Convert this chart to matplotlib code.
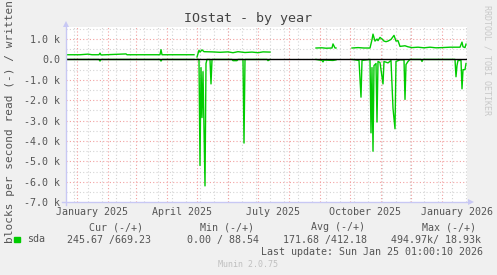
#!/usr/bin/env python3
"""Munin style IOstat yearly graph."""

import matplotlib

matplotlib.use("Agg")

import matplotlib.pyplot as plt
from matplotlib.lines import Line2D
from matplotlib.patches import Rectangle
import numpy as np
import pandas as pd


W, H = 497, 275

# written (+), blocks/s in thousands; None marks a gap in the data
written_dates = [
    "2024-12-21", "2025-01-04", "2025-01-12", "2025-01-16", "2025-01-23", "2025-01-24",
    "2025-01-25", "2025-02-19", "2025-02-20", "2025-03-25", "2025-03-26", "2025-03-27",
    "2025-04-28", "2025-04-29", "2025-05-01", "2025-05-03", "2025-05-04", "2025-05-06",
    "2025-05-08", "2025-05-16", "2025-05-24", "2025-06-01", "2025-06-06", "2025-06-11",
    "2025-06-18", "2025-06-25", "2025-07-01", "2025-07-06", "2025-07-13", "2025-07-14",
    "2025-08-28", "2025-09-03", "2025-09-07", "2025-09-13", "2025-09-14", "2025-09-16",
    "2025-09-17", "2025-09-18", "2025-10-03", "2025-10-09", "2025-10-15", "2025-10-21",
    "2025-10-23", "2025-10-24", "2025-10-26", "2025-10-28", "2025-10-29", "2025-10-31",
    "2025-11-02", "2025-11-04", "2025-11-06", "2025-11-08", "2025-11-11", "2025-11-14",
    "2025-11-16", "2025-11-18", "2025-11-20", "2025-11-25", "2025-11-28", "2025-12-02",
    "2025-12-08", "2025-12-14", "2025-12-20", "2025-12-26", "2026-01-01", "2026-01-09",
    "2026-01-17", "2026-01-19", "2026-01-21", "2026-01-22", "2026-01-24", "2026-01-25",
]
written_k = [
    0.23, 0.23, 0.26, 0.23, 0.23, 0.31,
    0.22, 0.27, 0.23, 0.23, 0.48, 0.23,
    0.23, None, 0.12, 0.45, 0.36, 0.47,
    0.38, 0.37, 0.35, 0.37, 0.33, 0.38,
    0.34, 0.36, 0.33, 0.37, 0.36, None,
    0.56, 0.57, 0.55, 0.56, 0.76, 0.56,
    0.56, None, 0.56, 0.58, 0.56, 0.56,
    0.97, 1.24, 0.90, 1.00, 0.92, 1.08,
    1.00, 0.90, 0.87, 0.90, 0.98, 1.18,
    0.90, 0.92, 0.64, 0.67, 0.62, 0.58,
    0.60, 0.57, 0.60, 0.57, 0.58, 0.60,
    0.60, 0.60, 0.85, 0.62, 0.58, 0.75,
]

# read (-), drawn below zero
read_dates = [
    "2024-12-21", "2025-01-23", "2025-01-24", "2025-01-25", "2025-03-25", "2025-03-26",
    "2025-03-27", "2025-04-28", "2025-04-29", "2025-05-01", "2025-05-03", "2025-05-04",
    "2025-05-05", "2025-05-06", "2025-05-07", "2025-05-09", "2025-05-10", "2025-05-11",
    "2025-05-14", "2025-05-15", "2025-05-16", "2025-06-05", "2025-06-06", "2025-06-10",
    "2025-06-11", "2025-06-16", "2025-06-17", "2025-06-18", "2025-07-10", "2025-07-11",
    "2025-07-13", "2025-07-14", "2025-08-28", "2025-09-03", "2025-09-04", "2025-09-05",
    "2025-09-14", "2025-09-17", "2025-09-18", "2025-10-03", "2025-10-10", "2025-10-12",
    "2025-10-13", "2025-10-21", "2025-10-22", "2025-10-23", "2025-10-24", "2025-10-25",
    "2025-10-27", "2025-10-28", "2025-10-29", "2025-10-31", "2025-11-03", "2025-11-04",
    "2025-11-08", "2025-11-11", "2025-11-13", "2025-11-15", "2025-11-16", "2025-11-20",
    "2025-11-24", "2025-11-25", "2025-11-26", "2025-11-28", "2025-11-30", "2025-12-11",
    "2025-12-12", "2025-12-13", "2026-01-14", "2026-01-15", "2026-01-16", "2026-01-17",
    "2026-01-20", "2026-01-21", "2026-01-22", "2026-01-24", "2026-01-25",
]
read_k = [
    0.0, 0.0, -0.08, 0.0, 0.0, -0.08,
    0.0, 0.0, None, 0.0, 0.0, -5.2,
    -0.4, -2.85, -0.6, -6.2, -0.2, 0.0,
    0.0, -1.2, 0.0, 0.0, -0.06, -0.06,
    0.0, 0.0, -4.1, 0.0, 0.0, -0.06,
    0.0, None, 0.0, -0.05, -0.12, -0.03,
    -0.05, -0.02, None, 0.0, -0.05, -1.85,
    -0.05, 0.0, -3.6, -0.4, -4.5, -0.3,
    -0.2, -3.07, -0.1, -0.15, -1.2, -0.1,
    -0.17, -0.05, -2.4, -3.4, -0.1, -0.02,
    -0.02, -1.96, -0.25, -0.1, 0.0, 0.0,
    -0.1, 0.0, 0.0, -0.85, -0.3, -0.05,
    -0.05, -1.44, -0.5, -0.5, -0.2,
]

y_ticks = [1, 0, -1, -2, -3, -4, -5, -6, -7]
y_tick_labels = ["1.0 k", "0.0", "-1.0 k", "-2.0 k", "-3.0 k", "-4.0 k", "-5.0 k", "-6.0 k", "-7.0 k"]
x_label_dates = ["2025-01-16", "2025-04-16", "2025-07-16", "2025-10-16", "2026-01-16"]
x_labels = ["January 2025", "April 2025", "July 2025", "October 2025", "January 2026"]

legend_headers = ["Cur (-/+)", "Min (-/+)", "Avg (-/+)", "Max (-/+)"]
legend_values = ["245.67 /669.23", "0.00 / 88.54", "171.68 /412.18", "494.97k/ 18.93k"]

GREEN = "#00cc00"
TEXT = "#555555"
AXIS = "#c8c8f4"
MGRID = "#f2a0a0"
GRID = "#d4d4d4"
MONO = "DejaVu Sans Mono"


def px(x, y):
    return x / W, 1 - y / H


def main():
    fig = plt.figure(figsize=(W / 100, H / 100), dpi=100, facecolor="#f0f0f0")
    left, right, top, bottom = 66, 467, 26.8, 202.2
    ax = fig.add_axes([left / W, 1 - bottom / H, (right - left) / W, (bottom - top) / H])
    ax.set_facecolor("white")

    x0 = pd.Timestamp("2024-12-21")
    x1 = pd.Timestamp("2026-01-26")
    ax.set_xlim(x0, x1)
    ax.set_ylim(-7, 1.6)

    # grid: minor every half k and every two weeks, major at k and month starts
    for v in np.arange(-6.5, 1.6, 0.5):
        is_major = float(v).is_integer()
        ax.axhline(v, color=MGRID if is_major else GRID, lw=0.8, ls=(0, (1, 2)), zorder=1)
    for d in pd.date_range("2024-12-29", x1, freq="14D"):
        ax.axvline(d, color=GRID, lw=0.8, ls=(0, (1, 2)), zorder=1)
    for d in pd.date_range("2025-01-01", x1, freq="MS"):
        ax.axvline(d, color=MGRID, lw=0.8, ls=(0, (1, 2)), zorder=1)

    wx = pd.to_datetime(written_dates)
    wy = np.array([np.nan if v is None else v for v in written_k])
    rx = pd.to_datetime(read_dates)
    ry = np.array([np.nan if v is None else v for v in read_k])
    ax.plot(rx, ry, color=GREEN, lw=1.0, zorder=3)
    ax.plot(wx, wy, color=GREEN, lw=1.0, zorder=3)
    ax.axhline(0, color="black", lw=1.0, zorder=4)

    ax.set_yticks(y_ticks)
    ax.set_yticklabels(y_tick_labels)
    ax.set_xticks(pd.to_datetime(x_label_dates))
    ax.set_xticklabels(x_labels)
    ax.tick_params(length=0, labelsize=7.2, labelcolor=TEXT)
    ax.tick_params(axis="y", pad=4.3)
    ax.tick_params(axis="x", pad=3.2)
    for lab in ax.get_xticklabels() + ax.get_yticklabels():
        lab.set_family(MONO)
    for s in ax.spines.values():
        s.set_visible(False)

    # axes with arrow heads
    fig.add_artist(Line2D([px(66, 0)[0]] * 2, [px(0, 205)[1], px(0, 25)[1]], color=AXIS, lw=1.0))
    fig.add_artist(Line2D([px(62, 0)[0], px(470, 0)[0]], [px(0, 202.2)[1]] * 2, color=AXIS, lw=1.0))
    fig.add_artist(Line2D([px(66, 0)[0]], [px(0, 23.5)[1]], marker="^", ms=5, color=AXIS, mew=0))
    fig.add_artist(Line2D([px(471, 0)[0]], [px(0, 202.2)[1]], marker=">", ms=5, color=AXIS, mew=0))

    fig.text(*px(248.5, 18.3), "IOstat - by year", family=MONO, fontsize=9.6,
             color="#444444", ha="center", va="center")
    fig.text(*px(10, 108), "blocks per second read (-) / written (+)", family=MONO,
             fontsize=8, color=TEXT, rotation=90, ha="center", va="center")
    fig.text(*px(487, 60), "RRDTOOL / TOBI OETIKER", family=MONO, fontsize=6,
             color="#c8c8c8", rotation=270, ha="center", va="center")

    header_x = [116, 227, 338, 449]
    for hx, h in zip(header_x, legend_headers):
        fig.text(*px(hx, 227.5), h, family=MONO, fontsize=7.2, color=TEXT, ha="center", va="center")
    fig.add_artist(Rectangle(px(14, 242), 5.5 / W, 5.5 / H, color=GREEN, transform=fig.transFigure))
    fig.text(*px(27, 239.5), "sda", family=MONO, fontsize=7.2, color=TEXT, ha="left", va="center")
    value_x = [67, 187, 283, 391]
    for vx, v in zip(value_x, legend_values):
        fig.text(*px(vx, 239.5), v, family=MONO, fontsize=7.2, color=TEXT, ha="left", va="center")
    fig.text(*px(483, 251.7), "Last update: Sun Jan 25 01:00:10 2026", family=MONO,
             fontsize=7.2, color=TEXT, ha="right", va="center")
    fig.text(*px(248, 264.3), "Munin 2.0.75", family=MONO, fontsize=6,
             color="#c0c0c0", ha="center", va="center")

    fig.savefig("out.png", dpi=100, facecolor=fig.get_facecolor())
    plt.close(fig)


if __name__ == "__main__":
    main()
